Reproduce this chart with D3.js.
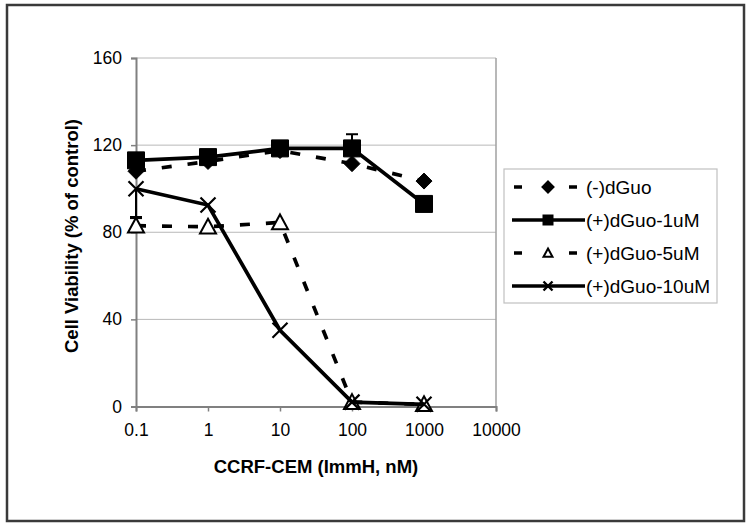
<!DOCTYPE html>
<html><head><meta charset="utf-8">
<script src="https://cdn.jsdelivr.net/npm/d3@7"></script>
<style>body{margin:0;background:#fff}svg{display:block}text{font-family:"Liberation Sans",Arial,sans-serif;fill:#000}</style>
</head><body>
<svg id="c" width="750" height="524"></svg>
<script>
const concentrations = [0.1, 1, 10, 100, 1000];
const xTicks = [0.1, 1, 10, 100, 1000, 10000];
const xTickLabels = ["0.1", "1", "10", "100", "1000", "10000"];
const yTicks = [0, 40, 80, 120, 160];
const seriesNames = ["(-)dGuo", "(+)dGuo-1uM", "(+)dGuo-5uM", "(+)dGuo-10uM"];
const minusDGuo = [108, 112.5, 117.5, 111.5, 103.5];
const dGuo1uM = [113, 114.5, 118.5, 118.5, 93];
const dGuo5uM = [83, 82.5, 84.5, 2, 1];
const dGuo10uM = [100, 92.5, 35, 2, 1];
const err1uM = [0, 0, 0, 6.5, 0];
const err5uM = [3.5, 0, 0, 0, 0];
const err10uM = [-13, 0, 0, 0, 0];
const xLabel = "CCRF-CEM (ImmH, nM)";
const yLabel = "Cell Viability (% of control)";

const svg = d3.select("#c");
const L = 136, R = 496, T = 58, B = 406.5;
const x = d3.scaleLog().domain([0.1, 10000]).range([L, R]);
const y = d3.scaleLinear().domain([0, 160]).range([B, T]);

// outer frame
svg.append("rect").attr("x", 7).attr("y", 5).attr("width", 737).attr("height", 516)
  .attr("fill", "none").attr("stroke", "#3a3a3a").attr("stroke-width", 2.5);

// gridlines
svg.append("g").selectAll("line").data(yTicks.filter(d => d > 0)).join("line")
  .attr("x1", L).attr("x2", R).attr("y1", d => y(d)).attr("y2", d => y(d))
  .attr("stroke", "#b8b8b8").attr("stroke-width", 1);
// right border
svg.append("line").attr("x1", R).attr("x2", R).attr("y1", T).attr("y2", B)
  .attr("stroke", "#a0a0a0").attr("stroke-width", 1.5);

// axes
const yAxis = d3.axisLeft(y).tickValues(yTicks).tickSize(5).tickPadding(9).tickFormat(d3.format("d"));
const gy = svg.append("g").attr("transform", `translate(${L},0)`).call(yAxis);
const xAxis = d3.axisBottom(x).tickValues(xTicks).tickSize(5).tickPadding(12).tickFormat((d, i) => xTickLabels[i]);
const gx = svg.append("g").attr("transform", `translate(0,${B})`).call(xAxis);
[gx, gy].forEach(g => {
  g.select(".domain").attr("stroke", "#808080").attr("stroke-width", 2);
  g.selectAll(".tick line").attr("stroke", "#808080").attr("stroke-width", 1.5);
  g.selectAll(".tick text").attr("font-size", 17.5).attr("font-family", "Liberation Sans, Arial, sans-serif").attr("fill", "#000");
});

svg.append("text").attr("x", (L + R) / 2).attr("y", 473).attr("text-anchor", "middle")
  .attr("font-size", 18.5).attr("font-weight", "bold").text(xLabel);
svg.append("text").attr("transform", "translate(78,236) rotate(-90)").attr("text-anchor", "middle")
  .attr("font-size", 18.5).attr("font-weight", "bold").text(yLabel);

// marker paths
function markerPath(type, s) {
  const h = s / 2;
  if (type === "diamond") return `M0,${-h}L${h},0L0,${h}L${-h},0Z`;
  if (type === "square") return `M${-h},${-h}H${h}V${h}H${-h}Z`;
  if (type === "triangle") return `M0,${-h}L${h},${h * 0.85}L${-h},${h * 0.85}Z`;
  return `M${-h},${-h}L${h},${h}M${h},${-h}L${-h},${h}`;
}

const series = [
  {name: seriesNames[0], vals: minusDGuo, err: null, dash: "10,16", marker: "diamond", size: 16, fill: "#000"},
  {name: seriesNames[1], vals: dGuo1uM, err: err1uM, dash: null, marker: "square", size: 17, fill: "#000"},
  {name: seriesNames[2], vals: dGuo5uM, err: err5uM, dash: "10,16", marker: "triangle", size: 16, fill: "#fff"},
  {name: seriesNames[3], vals: dGuo10uM, err: err10uM, dash: null, marker: "x", size: 15, fill: "none"}
];

const line = d3.line().x(d => x(d.c)).y(d => y(d.v));
series.forEach(s => {
  const pts = concentrations.map((c, i) => ({c, v: s.vals[i], e: s.err ? s.err[i] : 0}));
  const g = svg.append("g");
  g.selectAll("g.err").data(pts.filter(p => p.e !== 0)).join("g").attr("class", "err").each(function (p) {
    const e = d3.select(this);
    e.append("line").attr("x1", x(p.c)).attr("x2", x(p.c)).attr("y1", y(p.v)).attr("y2", y(p.v + p.e))
      .attr("stroke", "#000").attr("stroke-width", 2);
    e.append("line").attr("x1", x(p.c) - 6).attr("x2", x(p.c) + 6).attr("y1", y(p.v + p.e)).attr("y2", y(p.v + p.e))
      .attr("stroke", "#000").attr("stroke-width", 2);
  });
  g.append("path").datum(pts).attr("d", line).attr("fill", "none").attr("stroke", "#000")
    .attr("stroke-width", 3.7).attr("stroke-dasharray", s.dash);
  g.selectAll("path.m").data(pts).join("path").attr("class", "m")
    .attr("transform", p => `translate(${x(p.c)},${y(p.v)})`)
    .attr("d", markerPath(s.marker, s.size))
    .attr("fill", s.fill).attr("stroke", "#000")
    .attr("stroke-width", s.marker === "x" ? 2.2 : (s.marker === "triangle" ? 2 : 1));
});

// legend
const lg = svg.append("g");
lg.append("rect").attr("x", 504).attr("y", 169).attr("width", 213).attr("height", 134)
  .attr("fill", "#fff").attr("stroke", "#c0c0c0").attr("stroke-width", 1.2);
series.forEach((s, i) => {
  const cy = 187 + i * 33;
  if (s.dash) {
    lg.append("line").attr("x1", 514).attr("x2", 584).attr("y1", cy).attr("y2", cy)
      .attr("stroke", "#000").attr("stroke-width", 3.7).attr("stroke-dasharray", "8,47");
  } else {
    lg.append("line").attr("x1", 512).attr("x2", 585).attr("y1", cy).attr("y2", cy)
      .attr("stroke", "#000").attr("stroke-width", 3.7);
  }
  const ms = s.marker === "diamond" ? 11 : 9;
  lg.append("path").attr("transform", `translate(548,${cy})`)
    .attr("d", markerPath(s.marker, ms))
    .attr("fill", s.fill).attr("stroke", "#000").attr("stroke-width", s.marker === "x" ? 2.4 : 2);
  lg.append("text").attr("x", 586).attr("y", cy + 6.5).attr("font-size", 19).text(s.name);
});
</script>
</body></html>
